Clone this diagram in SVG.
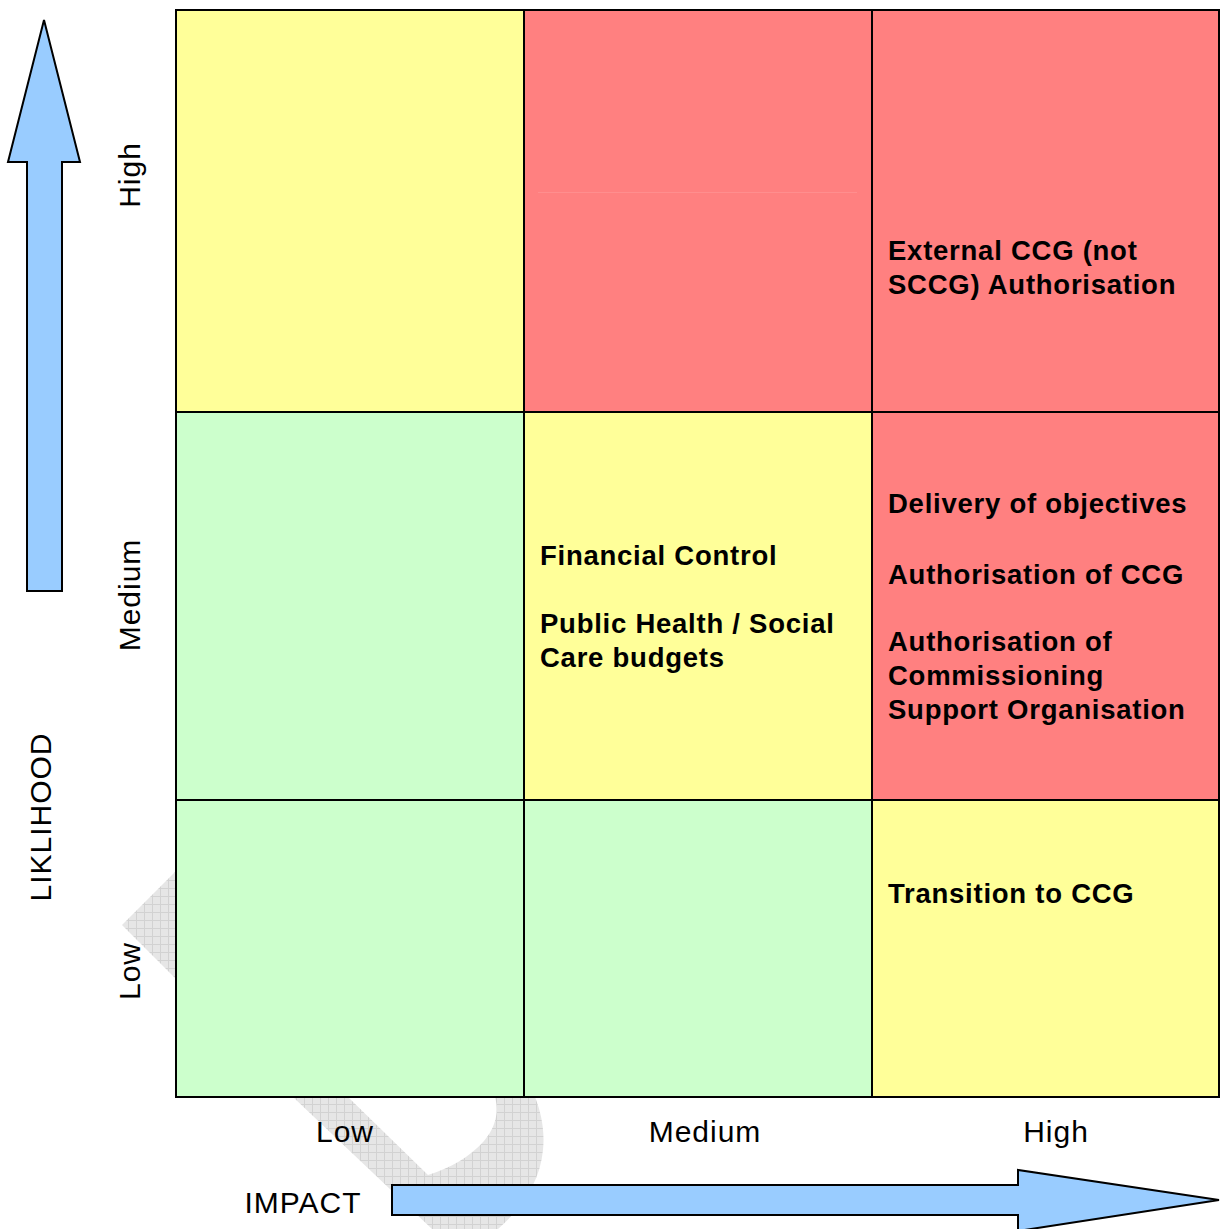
<svg xmlns="http://www.w3.org/2000/svg" width="1220" height="1229" viewBox="0 0 1220 1229">
<style>
.cell{stroke:#000;stroke-width:2}
.y{fill:#FFFF99}.r{fill:#FF8080}.g{fill:#CCFFCC}
.t{font-family:"Liberation Sans",Arial,sans-serif;font-size:27.5px;font-weight:bold;letter-spacing:0.75px;fill:#000}
.ax{font-family:"Liberation Sans",Arial,sans-serif;font-size:30px;letter-spacing:1px;fill:#000}
.arrow{fill:#99CCFF;stroke:#000;stroke-width:2;stroke-linejoin:miter}
</style>
<defs>
<pattern id="wm" width="8" height="8" patternUnits="userSpaceOnUse">
<rect width="8" height="8" fill="#e6e6e6"/>
<path d="M0 0.5H8M0.5 0V8" stroke="#d2d2d2" stroke-width="1"/>
</pattern>
</defs>
<rect width="1220" height="1229" fill="#fff"/>
<g id="watermark" fill="url(#wm)">
<path d="M122,925 L176,871 L176,979 Z"/>
<path d="M293,1097 L348,1097 L428,1175 C450,1168 470,1157 484,1141 C496,1127 499,1112 495,1097 L535,1097 C541,1112 545,1130 543,1150 C540,1180 525,1205 498,1229 L432,1229 Z"/>
</g>
<g id="grid">
<g id="cell-low-high"><rect class="cell y" x="176" y="10" width="348" height="402"/></g>
<g id="cell-med-high"><rect class="cell r" x="524" y="10" width="348" height="402"/><line x1="538" y1="192.5" x2="857" y2="192.5" stroke="#ff8e8e" stroke-width="1"/></g>
<g id="cell-high-high"><rect class="cell r" x="872" y="10" width="347" height="402"/>
<text class="t" x="888" y="260">External CCG (not</text>
<text class="t" x="888" y="294">SCCG) Authorisation</text></g>
<g id="cell-low-med"><rect class="cell g" x="176" y="412" width="348" height="388"/></g>
<g id="cell-med-med"><rect class="cell y" x="524" y="412" width="348" height="388"/>
<text class="t" x="540" y="565">Financial Control</text>
<text class="t" x="540" y="633">Public Health / Social</text>
<text class="t" x="540" y="667">Care budgets</text></g>
<g id="cell-high-med"><rect class="cell r" x="872" y="412" width="347" height="388"/>
<text class="t" x="888" y="513">Delivery of objectives</text>
<text class="t" x="888" y="584">Authorisation of CCG</text>
<text class="t" x="888" y="651">Authorisation of</text>
<text class="t" x="888" y="685">Commissioning</text>
<text class="t" x="888" y="719">Support Organisation</text></g>
<g id="cell-low-low"><rect class="cell g" x="176" y="800" width="348" height="297"/></g>
<g id="cell-med-low"><rect class="cell g" x="524" y="800" width="348" height="297"/></g>
<g id="cell-high-low"><rect class="cell y" x="872" y="800" width="347" height="297"/>
<text class="t" x="888" y="903">Transition to CCG</text></g>
</g>
<g id="axis-labels">
<text class="ax" x="345" y="1142" text-anchor="middle">Low</text>
<text class="ax" x="705" y="1142" text-anchor="middle">Medium</text>
<text class="ax" x="1056" y="1142" text-anchor="middle">High</text>
<text class="ax" x="303" y="1213" text-anchor="middle">IMPACT</text>
<text class="ax" transform="translate(140,175) rotate(-90)" text-anchor="middle">High</text>
<text class="ax" transform="translate(140,595) rotate(-90)" text-anchor="middle">Medium</text>
<text class="ax" transform="translate(140,971) rotate(-90)" text-anchor="middle">Low</text>
<text class="ax" transform="translate(51,817) rotate(-90)" text-anchor="middle">LIKLIHOOD</text>
</g>
<g id="connectors">
<path id="likelihood-arrow" class="arrow" d="M44,20 L80,162 L62,162 L62,591 L27,591 L27,162 L8,162 Z"/>
<path id="impact-arrow" class="arrow" d="M392,1185 L1018,1185 L1018,1170 L1219,1200 L1018,1231 L1018,1215 L392,1215 Z"/>
</g>
</svg>
